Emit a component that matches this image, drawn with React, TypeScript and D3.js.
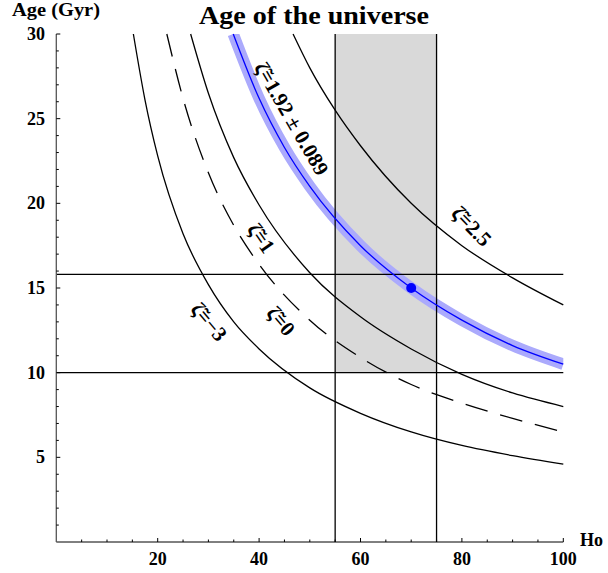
import React, { useEffect, useRef } from 'react'
import * as d3 from 'd3'

type Pt = [number, number]

// Age (Gyr) against Ho
const zetaMinus3: Pt[] = [
  [15.2, 30], [17.5, 26.1], [20, 22.8], [25, 18.2], [30, 15.2], [35, 13.0],
  [40, 11.4], [50, 9.1], [60, 7.6], [70, 6.5], [80, 5.7], [90, 5.1], [100, 4.6],
]
const zetaZero: Pt[] = [
  [21.8, 30], [25, 26.2], [30, 21.8], [35, 18.7], [40, 16.4], [50, 13.1],
  [60, 10.9], [70, 9.3], [80, 8.2], [90, 7.3], [100, 6.5],
]
const zetaOne: Pt[] = [
  [26.5, 30], [30, 26.5], [35, 22.7], [40, 19.9], [50, 15.9], [60, 13.3],
  [70, 11.4], [80, 9.9], [90, 8.8], [100, 8.0],
]
const zetaFit: Pt[] = [
  [34.9, 30], [40, 26.2], [45, 23.3], [50, 21.0], [60, 17.5], [70, 15.0],
  [80, 13.1], [90, 11.6], [100, 10.5],
]
const zetaTwoHalf: Pt[] = [
  [46.7, 30], [50, 28.0], [55, 25.5], [60, 23.4], [70, 20.0], [80, 17.5],
  [90, 15.6], [100, 14.0],
]

const measuredPoint: Pt = [70, 15]
const hoRange = [55, 75]
const ageLimits = [10, 15.8]

const xTicks = [20, 40, 60, 80, 100]
const yTicks = [5, 10, 15, 20, 25, 30]

const labels = ['ζ̃=−3', 'ζ̃=0', 'ζ̃=1', 'ζ̃=1.92 ± 0.089', 'ζ̃=2.5']

const width = 608
const height = 573
const font = "'Liberation Serif', 'Times New Roman', serif"

const App: React.FC = () => {
  const ref = useRef<SVGSVGElement | null>(null)

  useEffect(() => {
    if (!ref.current) return
    const svg = d3.select(ref.current)

    const x = d3.scaleLinear().domain([0, 100]).range([56.3, 563.3])
    const y = d3.scaleLinear().domain([0, 30]).range([542, 34])

    const line = d3
      .line<Pt>()
      .x((d) => x(d[0]))
      .y((d) => y(d[1]))
      .curve(d3.curveMonotoneX)

    svg
      .append('defs')
      .append('clipPath')
      .attr('id', 'plot')
      .append('rect')
      .attr('x', x(0))
      .attr('y', y(30))
      .attr('width', x(100) - x(0))
      .attr('height', y(0) - y(30))

    // shaded Ho window
    svg
      .append('rect')
      .attr('x', x(hoRange[0]))
      .attr('y', y(30))
      .attr('width', x(hoRange[1]) - x(hoRange[0]))
      .attr('height', y(ageLimits[0]) - y(30))
      .attr('fill', '#d9d9d9')

    // error band round the fit
    svg
      .append('path')
      .attr('d', line(zetaFit))
      .attr('clip-path', 'url(#plot)')
      .attr('fill', 'none')
      .attr('stroke', '#abaafc')
      .attr('stroke-width', 11.5)

    const black = [zetaMinus3, zetaZero, zetaOne, zetaTwoHalf]
    svg
      .append('g')
      .selectAll('path')
      .data(black)
      .join('path')
      .attr('d', (d) => line(d))
      .attr('fill', 'none')
      .attr('stroke', '#000')
      .attr('stroke-width', 1.3)
      .attr('stroke-dasharray', (d) => (d === zetaZero ? '23,13' : null))

    // horizontal and vertical limits
    svg
      .append('g')
      .selectAll('line')
      .data(ageLimits)
      .join('line')
      .attr('x1', x(0))
      .attr('x2', x(100))
      .attr('y1', (d) => y(d))
      .attr('y2', (d) => y(d))
      .attr('stroke', '#000')
      .attr('stroke-width', 1.3)
    svg
      .append('g')
      .selectAll('line')
      .data(hoRange)
      .join('line')
      .attr('x1', (d) => x(d))
      .attr('x2', (d) => x(d))
      .attr('y1', y(0))
      .attr('y2', y(30))
      .attr('stroke', '#000')
      .attr('stroke-width', 1.3)

    svg
      .append('path')
      .attr('d', line(zetaFit))
      .attr('fill', 'none')
      .attr('stroke', '#0000ff')
      .attr('stroke-width', 1.3)

    svg
      .append('circle')
      .attr('cx', x(measuredPoint[0]))
      .attr('cy', y(measuredPoint[1]))
      .attr('r', 5)
      .attr('fill', '#0000ff')

    // axes
    const axes = svg.append('g').attr('stroke', '#000')
    axes
      .append('line')
      .attr('x1', x(0))
      .attr('x2', x(100))
      .attr('y1', y(0))
      .attr('y2', y(0))
    axes
      .append('line')
      .attr('x1', x(0))
      .attr('x2', x(0))
      .attr('y1', y(0))
      .attr('y2', y(30))
      .attr('stroke', '#555')
      .attr('stroke-width', 1.3)
    axes
      .selectAll('.xt')
      .data(d3.range(5, 101, 5))
      .join('line')
      .attr('x1', (d) => x(d))
      .attr('x2', (d) => x(d))
      .attr('y1', y(0))
      .attr('y2', (d) => y(0) - (d % 20 === 0 ? 4 : 2.5))
    axes
      .selectAll('.yt')
      .data(d3.range(1, 31))
      .join('line')
      .attr('y1', (d) => y(d))
      .attr('y2', (d) => y(d))
      .attr('x1', x(0))
      .attr('x2', (d) => x(0) + (d % 5 === 0 ? 4 : 2.5))

    const text = svg
      .append('g')
      .attr('font-family', font)
      .attr('font-weight', 'bold')
      .attr('fill', '#000')

    text
      .selectAll('.xl')
      .data(xTicks)
      .join('text')
      .attr('x', (d) => x(d))
      .attr('y', 565)
      .attr('text-anchor', 'middle')
      .attr('font-size', 18)
      .text((d) => d)
    text
      .selectAll('.yl')
      .data(yTicks)
      .join('text')
      .attr('x', 45)
      .attr('y', (d) => y(d) + 6)
      .attr('text-anchor', 'end')
      .attr('font-size', 18)
      .text((d) => d)

    text
      .append('text')
      .attr('x', 580)
      .attr('y', 546)
      .attr('font-size', 18)
      .text('Ho')
    text
      .append('text')
      .attr('x', 12)
      .attr('y', 16)
      .attr('font-size', 18)
      .attr('textLength', 88)
      .attr('lengthAdjust', 'spacingAndGlyphs')
      .text('Age (Gyr)')
    text
      .append('text')
      .attr('x', 314)
      .attr('y', 23.5)
      .attr('text-anchor', 'middle')
      .attr('font-size', 26)
      .attr('textLength', 230)
      .attr('lengthAdjust', 'spacingAndGlyphs')
      .text('Age of the universe')

    // curve labels: anchor (Ho, age) and rotation
    const spots: [number, number, number][] = [
      [30.1, 13.0, 50],
      [44.3, 13.05, 50],
      [40.4, 17.95, 55],
      [46.4, 25.0, 60],
      [81.9, 18.65, 46],
    ]
    text
      .selectAll('.cl')
      .data(labels)
      .join('text')
      .attr('text-anchor', 'middle')
      .attr('dominant-baseline', 'central')
      .attr('font-size', 21)
      .attr('transform', (_d, i) => {
        const [h, a, r] = spots[i]
        return `translate(${x(h)},${y(a)}) rotate(${r})`
      })
      .text((d) => d)

    return () => {
      svg.selectAll('*').remove()
    }
  }, [])

  return (
    <svg
      ref={ref}
      width={width}
      height={height}
      style={{ position: 'absolute', left: 0, top: 0, background: '#fff' }}
    />
  )
}

export default App
